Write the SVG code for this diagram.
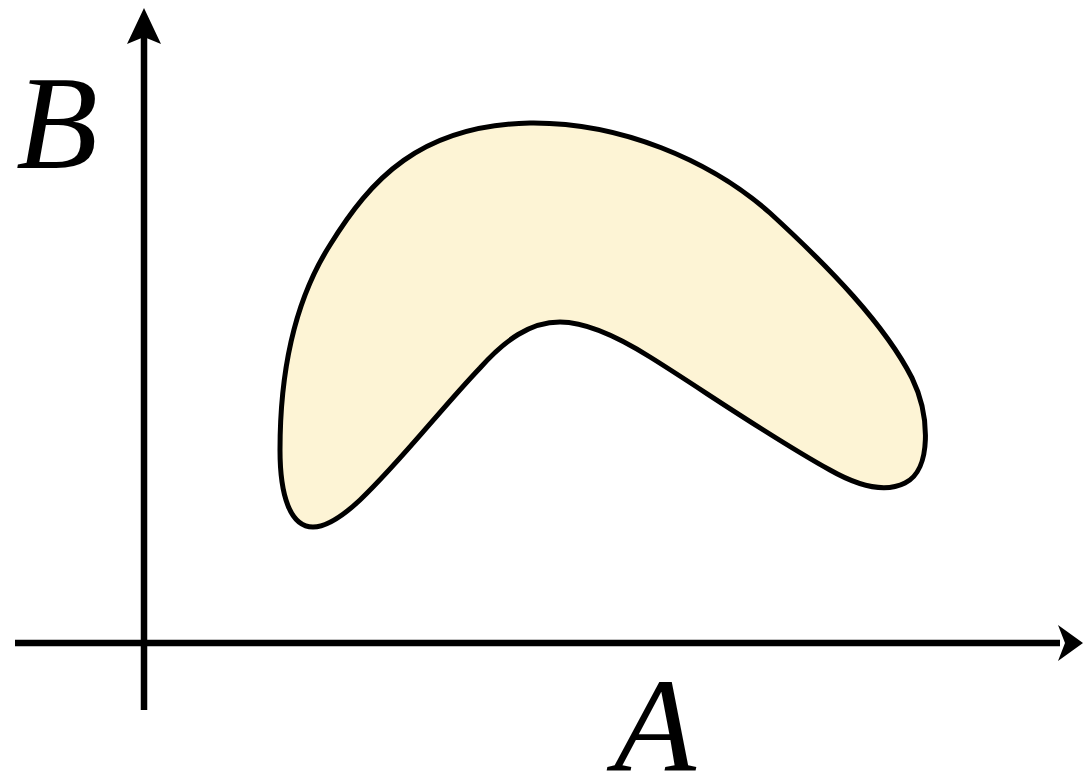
<svg xmlns="http://www.w3.org/2000/svg" width="1083" height="776" viewBox="0 0 1083 776">
<style>
.axis{stroke:#000;stroke-width:6.5;fill:none}
.head{fill:#000}
.lbl{font-family:"Liberation Serif","Times New Roman",serif;font-style:italic;font-size:134px;fill:#000}
.region{fill:#fdf4d5;stroke:#000;stroke-width:5;stroke-linejoin:round}
</style>
<g id="region">
<path class="region" d="M 313 527 C 290 527 280 495 280 450 C 280 370 295 300 330 245 C 370 180 420 125 530 123 C 620 122 710 160 770 213 C 830 268 885 325 912 378 C 930 415 932 470 905 483 C 885 493 860 487 830 470 C 770 437 700 388 650 357 C 615 335 585 322 560 322 C 530 322 505 340 480 368 C 440 410 400 462 360 500 C 345 514 328 527 313 527 Z"/>
</g>
<g id="connectors">
<line class="axis" x1="144" y1="710" x2="144" y2="35"/>
<path class="head" d="M 144 8 L 161 44 L 144 37 L 127 44 Z"/>
<line class="axis" x1="15" y1="643" x2="1060" y2="643"/>
<path class="head" d="M 1083 643 L 1058 661 L 1065 643 L 1058 625 Z"/>
</g>
<g id="labelB"><text class="lbl" x="16" y="168">B</text></g>
<g id="labelA"><text class="lbl" x="614" y="770">A</text></g>
</svg>
